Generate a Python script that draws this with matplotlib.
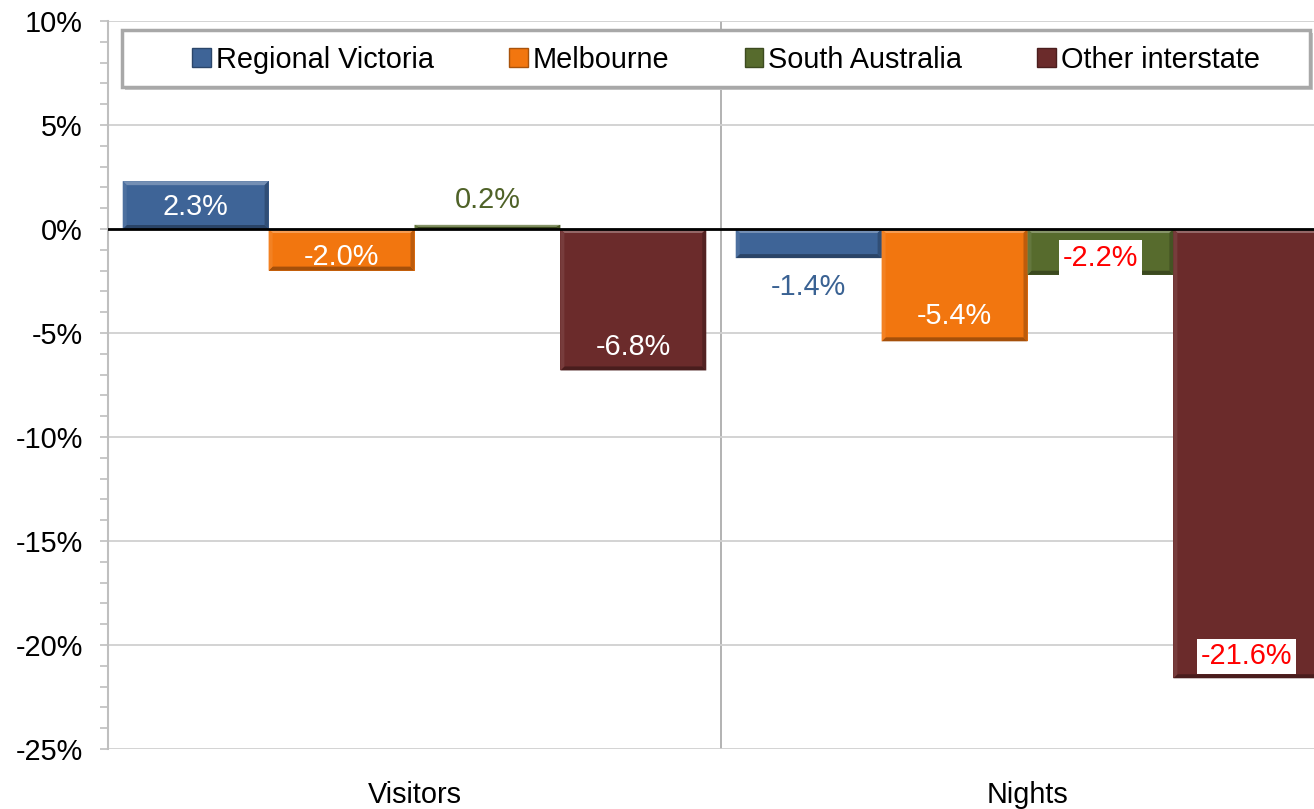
import matplotlib
matplotlib.use("Agg")
import matplotlib.pyplot as plt
import numpy as np
from matplotlib.patches import Rectangle, Patch, Polygon
from matplotlib.ticker import MultipleLocator, FuncFormatter
import matplotlib.colors as mcolors

# ---- data ----
categories = ["Visitors", "Nights"]
series_names = ["Regional Victoria", "Melbourne", "South Australia", "Other interstate"]
regional_victoria = [2.3, -1.4]
melbourne = [-2.0, -5.4]
south_australia = [0.2, -2.2]
other_interstate = [-6.8, -21.6]
series_values = [regional_victoria, melbourne, south_australia, other_interstate]

# ---- style ----
colors = ["#3E6497", "#F2760F", "#576B2D", "#6B2B2B"]
# label styles per series per category: (mode, offset px, text color, white box)
label_styles = [
    [("in", 26, "white", False), ("out", 29, "#3A6293", False)],
    [("in", 14, "white", False), ("in", 25, "white", False)],
    [("out", 25, "#4F6228", False), ("in", 17, "#FF0000", True)],
    [("in", 23, "white", False), ("in", 22, "#FF0000", True)],
]

plt.rcParams['font.family'] = ['Liberation Sans', 'DejaVu Sans']
FS = 20.8
W, H = 1314, 809
fig = plt.figure(figsize=(W / 100, H / 100), dpi=100)
ax = fig.add_axes([108 / W, 1 - 749 / H, 1226 / W, 728 / H])

def shade(c, f):
    r, g, b = mcolors.to_rgb(c)
    if f < 1:
        return (r * f, g * f, b * f)
    return (r + (1 - r) * (f - 1), g + (1 - g) * (f - 1), b + (1 - b) * (f - 1))

n = len(series_names)
bw = 0.238
x = np.arange(len(categories))
px_per_pt = 100 / 72
ax.set_xlim(-0.5, 1.5)
ax.set_ylim(-25, 10)

# pixel -> data scale for bevel thickness
px_x = (1.5 - -0.5) / 1226.0
px_y = (10 - -25) / 728.0
bev = 4

for i, (name, vals) in enumerate(zip(series_names, series_values)):
    pos = x + (i - (n - 1) / 2) * bw
    bars = ax.bar(pos, vals, width=bw, color=colors[i], edgecolor="none",
                  linewidth=0, zorder=3, label=name)
    for j, (b, v) in enumerate(zip(bars, vals)):
        x0 = b.get_x(); x1 = x0 + b.get_width()
        y0 = min(b.get_y(), b.get_y() + b.get_height())
        y1 = max(b.get_y(), b.get_y() + b.get_height())
        tx = bev * px_x
        ty = min(bev * px_y, (y1 - y0) / 2)
        polys = [
            ([(x0, y1), (x1, y1), (x1 - tx, y1 - ty), (x0 + tx, y1 - ty)], shade(colors[i], 1.28)),
            ([(x0, y0), (x1, y0), (x1 - tx, y0 + ty), (x0 + tx, y0 + ty)], shade(colors[i], 0.68)),
            ([(x0, y0), (x0, y1), (x0 + tx, y1 - ty), (x0 + tx, y0 + ty)], shade(colors[i], 1.08)),
            ([(x1, y0), (x1, y1), (x1 - tx, y1 - ty), (x1 - tx, y0 + ty)], shade(colors[i], 0.78)),
        ]
        for pts, col in polys:
            ax.add_patch(Polygon(pts, closed=True, fc=col, ec="none", zorder=3.5))

        mode, off, tc, box = label_styles[i][j]
        sign = 1 if v >= 0 else -1
        dy = -sign * off if mode == "in" else sign * off
        kw = {}
        if box:
            kw["bbox"] = dict(boxstyle="square,pad=0.12", fc="white", ec="none")
        ax.annotate(f"{v:.1f}%", xy=(b.get_x() + b.get_width() / 2, v),
                    xytext=(0, dy / px_per_pt), textcoords="offset points",
                    ha="center", va="center", fontsize=FS, color=tc, zorder=6, **kw)

ax.yaxis.set_major_locator(MultipleLocator(5))
ax.yaxis.set_minor_locator(MultipleLocator(1))
ax.yaxis.set_major_formatter(FuncFormatter(lambda v, p: f"{v:.0f}%"))
ax.grid(axis="y", which="major", color="#D0D0D0", linewidth=1.3, zorder=0)
ax.axhline(0, color="black", linewidth=2, zorder=4)
ax.axvline(0.5, color="#A6A6A6", linewidth=1.2, zorder=1)
ax.set_xticks(x)
ax.set_xticklabels(categories)
ax.tick_params(axis="x", length=0, pad=23, labelsize=FS)
ax.tick_params(axis="y", which="both", length=6, color="#BFBFBF", width=1.2, labelsize=FS, pad=12)
for s in ["top", "right", "bottom"]:
    ax.spines[s].set_visible(False)
ax.spines["left"].set_color("#BFBFBF")
ax.spines["left"].set_linewidth(1.5)

# legend frame
lx0, lx1, ly0, ly1 = 122, 1310, 30, 87
shadow = Rectangle(((lx0 + 3) / W, 1 - (ly1 + 3) / H), (lx1 - lx0) / W, (ly1 - ly0) / H,
                   transform=fig.transFigure, fc="#C8C8C8", ec="none", zorder=5)
frame = Rectangle((lx0 / W, 1 - ly1 / H), (lx1 - lx0) / W, (ly1 - ly0) / H,
                  transform=fig.transFigure, fc="white", ec="#A8A8A8", lw=2.5, zorder=6)
fig.patches.extend([shadow, frame])

handles = [Patch(facecolor=c, edgecolor=shade(c, 0.7), linewidth=1) for c in colors]
leg = fig.legend(handles, series_names, loc="center", ncol=4, frameon=False,
                 bbox_to_anchor=(726 / W, 1 - 60 / H), fontsize=FS,
                 handlelength=0.65, handleheight=0.65, handletextpad=0.15,
                 columnspacing=2.62)
leg.set_zorder(10)

fig.savefig("out.png", dpi=100)
